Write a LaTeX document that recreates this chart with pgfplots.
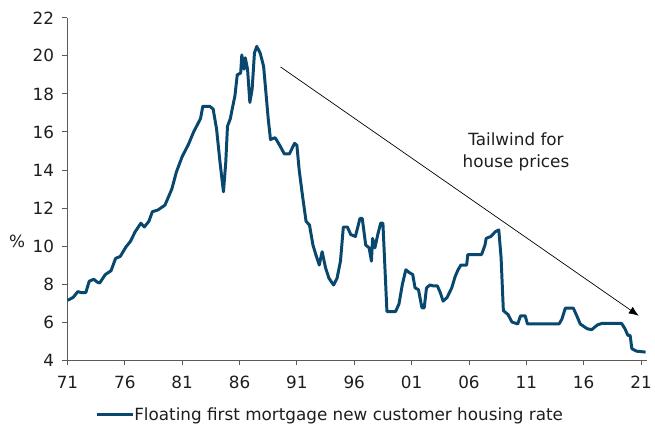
\documentclass[border=0pt]{standalone}
\usepackage{pgfplots}
\pgfplotsset{compat=1.18}
\usepackage{fontspec}
\setmainfont{DejaVu Sans}
\usetikzlibrary{arrows.meta}
\definecolor{ratec}{RGB}{9,72,110}
\definecolor{axc}{RGB}{90,90,90}
\definecolor{txc}{RGB}{30,30,30}
\begin{document}
\begin{tikzpicture}
\begin{axis}[
  scale only axis,
  width=584bp, height=345bp,
  xmin=1971, xmax=2021.5,
  ymin=4, ymax=22,
  axis lines*=left,
  axis line style={axc, line width=0.9bp},
  every tick/.style={axc, line width=0.9bp},
  tick align=outside,
  major tick length=5bp,
  xtick={1971,1976,...,2021},
  xticklabels={71,76,81,86,91,96,01,06,11,16,21},
  ytick={4,6,...,22},
  font=\fontsize{17}{20.4}\selectfont,
  tick label style={txc},
  /pgf/number format/assume math mode=true,
  yticklabel style={xshift=-5bp},
  xticklabel style={yshift=-8bp},
  ylabel={\%},
  ylabel style={rotate=-90, at={(axis description cs:-0.087,0.348)}, anchor=center, txc},
  clip=false,
  legend style={draw=none, at={(0.452,-0.159)}, anchor=center, fill=none,
     font=\fontsize{17}{20.4}\selectfont, text=txc, inner sep=0pt,
     nodes={inner xsep=0pt}},
  legend image code/.code={\draw[#1] (0bp,0bp) -- (36bp,0bp);},
  legend cell align=left,
]
\addplot[color=ratec, line width=3bp, line join=round] coordinates {
(1971.0,7.15) (1971.2,7.2) (1971.5,7.3) (1971.9,7.6) (1972.2,7.55) (1972.6,7.55)
(1972.9,8.15) (1973.3,8.25) (1973.6,8.1) (1973.8,8.05) (1974.3,8.5) (1974.8,8.7)
(1975.2,9.35) (1975.6,9.45) (1976.1,9.95) (1976.5,10.25) (1976.9,10.75) (1977.4,11.2)
(1977.7,11.0) (1978.1,11.3) (1978.4,11.8) (1978.9,11.9) (1979.5,12.15) (1980.1,13.0)
(1980.5,13.9) (1981.0,14.7) (1981.55,15.35) (1982.0,16.0) (1982.3,16.35) (1982.6,16.7)
(1982.8,17.35) (1983.4,17.35) (1983.7,17.2) (1984.0,16.15) (1984.3,14.4) (1984.6,12.85)
(1984.8,14.4) (1984.95,16.3) (1985.2,16.7) (1985.36,17.2) (1985.6,17.9) (1985.8,19.0)
(1986.1,19.1) (1986.2,20.05) (1986.4,19.3) (1986.5,19.9) (1986.7,19.3) (1986.9,17.55)
(1987.1,18.25) (1987.3,20.15) (1987.5,20.5) (1987.8,20.15) (1988.1,19.45) (1988.5,16.7)
(1988.7,15.6) (1989.1,15.7) (1989.5,15.3) (1989.9,14.85) (1990.35,14.85) (1990.8,15.4)
(1991.0,15.3) (1991.2,14.0) (1991.5,12.6) (1991.8,11.3) (1992.1,11.1) (1992.4,10.05)
(1992.65,9.55) (1992.95,9.0) (1993.2,9.7) (1993.5,8.85) (1993.8,8.3) (1994.2,7.95)
(1994.5,8.3) (1994.8,9.2) (1995.05,11.0) (1995.4,11.0) (1995.7,10.6) (1996.1,10.5)
(1996.5,11.45) (1996.7,11.45) (1997.0,10.05) (1997.3,9.9) (1997.5,9.2) (1997.6,10.4)
(1997.8,9.9) (1998.05,10.6) (1998.3,11.2) (1998.5,11.2) (1998.85,6.55) (1999.6,6.55)
(1999.9,6.95) (2000.2,8.0) (2000.5,8.75) (2000.8,8.6) (2001.1,8.5) (2001.3,7.8)
(2001.6,7.7) (2001.9,6.75) (2002.1,6.75) (2002.3,7.8) (2002.6,7.95) (2002.9,7.9)
(2003.25,7.9) (2003.5,7.55) (2003.75,7.1) (2004.1,7.3) (2004.5,7.8) (2004.8,8.4)
(2005.05,8.75) (2005.3,9.0) (2005.8,9.0) (2005.9,9.55) (2007.1,9.55) (2007.4,10.05)
(2007.5,10.4) (2007.9,10.5) (2008.3,10.75) (2008.6,10.85) (2008.8,9.4) (2009.0,6.6)
(2009.4,6.4) (2009.75,6.0) (2010.25,5.9) (2010.5,6.33) (2010.9,6.33) (2011.1,5.9)
(2013.85,5.9) (2014.1,6.15) (2014.4,6.73) (2015.1,6.73) (2015.4,6.33) (2015.7,5.9)
(2016.3,5.65) (2016.7,5.6) (2017.2,5.85) (2017.6,5.93) (2019.3,5.93) (2019.6,5.65)
(2019.85,5.3) (2020.05,5.3) (2020.2,4.6) (2020.6,4.47) (2021.4,4.42)
};
\addlegendentry{Floating first mortgage new customer housing rate}
\draw[black, line width=0.7bp, -{Latex[length=10bp,width=8bp]}] (axis cs:1989.57,19.42) -- (axis cs:2020.8,6.33);
\node[align=center, font=\fontsize{17}{22}\selectfont, text=txc] at (axis cs:2010.1,14.95) {Tailwind for\\house prices};
\end{axis}
\path (current axis.south west) ++(-68bp,-66bp) coordinate (bbA);
\path (current axis.north east) ++(3bp,18bp) coordinate (bbB);
\path (bbA) rectangle (bbB);
\end{tikzpicture}
\end{document}
